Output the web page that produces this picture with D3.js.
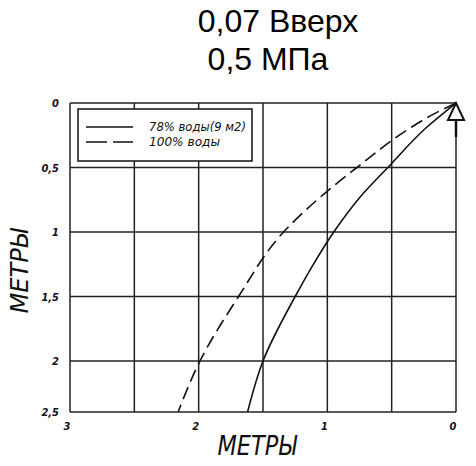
<!DOCTYPE html>
<html lang="ru">
<head>
<meta charset="utf-8">
<script src="https://d3js.org/d3.v7.min.js"></script>
<style>
  body { margin: 0; background: #fff; }
  .gost { font-family: "DejaVu Sans Condensed", "DejaVu Sans", sans-serif; font-style: italic; fill: #111; }
</style>
</head>
<body>
<div id="chart"></div>
<script>
// title lines
const titleLines = ["0,07 Вверх", "0,5 МПа"];

// ticks
const xTicks = [3, 2, 1, 0];
const xGrid = [3, 2.5, 2, 1.5, 1, 0.5, 0];
const yTicks = [0, 0.5, 1, 1.5, 2, 2.5];
const yTickLabels = ["0", "0,5", "1", "1,5", "2", "2,5"];

// series (horizontal distance, depth), metres
const seriesNames = ["78% воды(9 м2)", "100% воды"];
const water78 = [[0, 0], [0.23, 0.19], [0.53, 0.5], [0.72, 0.7], [0.95, 1.0], [1.12, 1.27], [1.25, 1.5], [1.5, 2.0], [1.62, 2.5]];
const water100 = [[0, 0], [0.2, 0.1], [0.35, 0.19], [0.77, 0.5], [1.02, 0.7], [1.34, 1.0], [1.69, 1.5], [1.99, 2.0], [2.16, 2.5]];

const width = 476, height = 466;

const svg = d3.select("#chart").append("svg")
  .attr("width", width)
  .attr("height", height);

const x = d3.scaleLinear().domain([3, 0]).range([70, 456]);
// bottom row is shorter in the original drawing
const y = d3.scaleLinear().domain([0, 2, 2.5]).range([103, 361, 412]);

// title
svg.append("g").selectAll("text")
  .data(titleLines)
  .enter().append("text")
  .attr("x", (d, i) => i === 0 ? 278 : 268)
  .attr("y", (d, i) => 32 + i * 38)
  .attr("text-anchor", "middle")
  .style("font-family", "Arial, 'Liberation Sans', sans-serif")
  .style("font-size", "32px")
  .style("fill", "#000")
  .text(d => d);

// grid
const grid = svg.append("g")
  .attr("stroke", "#222")
  .attr("stroke-width", 1.5);

grid.selectAll(".vx")
  .data(xGrid)
  .enter().append("line")
  .attr("x1", d => x(d)).attr("x2", d => x(d))
  .attr("y1", y(0)).attr("y2", y(2.5));

grid.selectAll(".hy")
  .data(yTicks)
  .enter().append("line")
  .attr("x1", x(3)).attr("x2", x(0))
  .attr("y1", d => y(d)).attr("y2", d => y(d));

// tick labels
svg.append("g").selectAll("text")
  .data(yTicks)
  .enter().append("text")
  .attr("class", "gost")
  .attr("x", 59)
  .attr("y", d => y(d) + 4)
  .attr("text-anchor", "end")
  .style("font-size", "11px")
  .style("font-weight", "bold")
  .text((d, i) => yTickLabels[i]);

svg.append("g").selectAll("text")
  .data(xTicks)
  .enter().append("text")
  .attr("class", "gost")
  .attr("x", d => x(d) - 3)
  .attr("y", 430)
  .attr("text-anchor", "middle")
  .style("font-size", "11px")
  .style("font-weight", "bold")
  .text(d => d);

// axis titles
svg.append("text")
  .attr("class", "gost")
  .attr("x", 257)
  .attr("y", 455)
  .attr("text-anchor", "middle")
  .attr("textLength", 79)
  .attr("lengthAdjust", "spacingAndGlyphs")
  .style("font-size", "26px")
  .text("МЕТРЫ");

svg.append("text")
  .attr("class", "gost")
  .attr("transform", "translate(28,271) rotate(-90)")
  .attr("text-anchor", "middle")
  .attr("textLength", 85)
  .attr("lengthAdjust", "spacingAndGlyphs")
  .style("font-size", "25px")
  .text("МЕТРЫ");

// curves
const line = d3.line()
  .x(d => x(d[0]))
  .y(d => y(d[1]))
  .curve(d3.curveMonotoneY);

svg.append("path")
  .datum(water78)
  .attr("d", line)
  .attr("fill", "none")
  .attr("stroke", "#111")
  .attr("stroke-width", 1.6);

svg.append("path")
  .datum(water100)
  .attr("d", line)
  .attr("fill", "none")
  .attr("stroke", "#111")
  .attr("stroke-width", 1.6)
  .attr("stroke-dasharray", "13,6");

// arrow at origin
const ox = x(0), oy = y(0);
svg.append("line")
  .attr("x1", ox).attr("x2", ox)
  .attr("y1", oy + 17).attr("y2", oy + 34)
  .attr("stroke", "#111")
  .attr("stroke-width", 2.5);
svg.append("path")
  .attr("d", `M${ox},${oy} L${ox + 8},${oy + 17} L${ox - 8},${oy + 17} Z`)
  .attr("fill", "#fff")
  .attr("stroke", "#111")
  .attr("stroke-width", 2);

// legend
const legend = svg.append("g");
legend.append("rect")
  .attr("x", 78).attr("y", 109)
  .attr("width", 174).attr("height", 52)
  .attr("fill", "#fff")
  .attr("stroke", "#111")
  .attr("stroke-width", 1.5);

const li = legend.selectAll(".item")
  .data(seriesNames)
  .enter().append("g")
  .attr("transform", (d, i) => `translate(0,${127 + i * 15})`);

li.append("line")
  .attr("x1", 86).attr("x2", 133)
  .attr("stroke", "#111")
  .attr("stroke-width", 1.5)
  .attr("stroke-dasharray", (d, i) => i === 0 ? null : "21,6");

li.append("text")
  .attr("class", "gost")
  .attr("x", 149)
  .attr("y", 4)
  .attr("textLength", (d, i) => i === 0 ? 97 : 71)
  .attr("lengthAdjust", "spacingAndGlyphs")
  .style("font-size", "13px")
  .text(d => d);
</script>
</body>
</html>
